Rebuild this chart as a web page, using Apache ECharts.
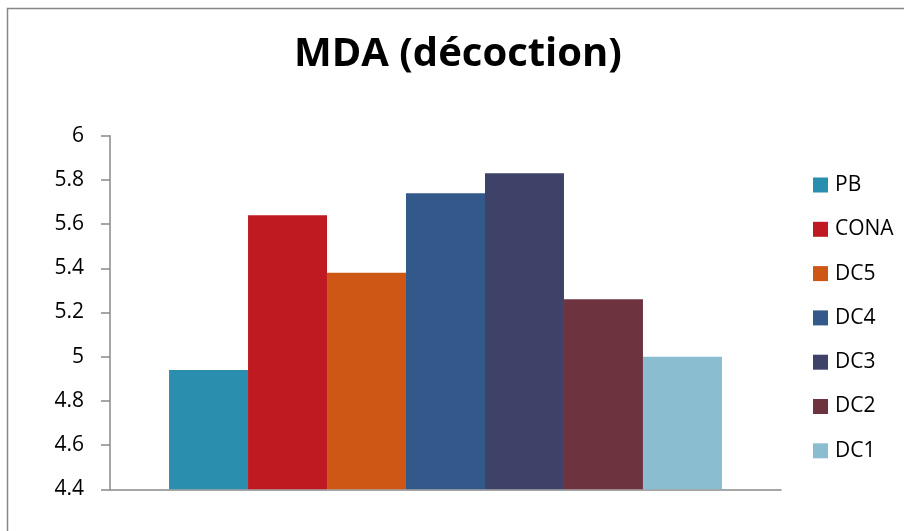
<!DOCTYPE html>
<html>
<head>
<meta charset="utf-8">
<script src="https://cdn.jsdelivr.net/npm/echarts@6/dist/echarts.min.js"></script>
<style>
html,body{margin:0;padding:0;background:#fff;}
#chart{width:904px;height:531px;}
</style>
</head>
<body>
<div id="chart"></div>
<script>
var titleText = 'MDA (décoction)';
var categories = ['MDA'];
var seriesNames = ['PB', 'CONA', 'DC5', 'DC4', 'DC3', 'DC2', 'DC1'];
var seriesValues = [4.94, 5.64, 5.38, 5.74, 5.83, 5.26, 5.00];
var seriesColors = ['#2A8FAE', '#BF1A22', '#CF5716', '#33598B', '#3F4268', '#6D3440', '#8ABDD0'];
var yMin = 4.4, yMax = 6, yStep = 0.2;

var FONT = 'Open Sans';
var chart = echarts.init(document.getElementById('chart'), null, {renderer: 'canvas'});
var series = seriesNames.map(function (name, i) {
  return {
    name: name,
    type: 'bar',
    data: [seriesValues[i]],
    itemStyle: {color: seriesColors[i]},
    barGap: '0%',
    barCategoryGap: '17.6%',
    emphasis: {disabled: true}
  };
});
chart.setOption({
  animation: false,
  backgroundColor: '#fff',
  title: {
    text: titleText,
    left: 289,
    top: 30,
    textStyle: {fontFamily: FONT, fontWeight: 'bold', fontSize: 40, color: '#000'}
  },
  legend: {
    orient: 'vertical',
    left: 808,
    top: 169,
    itemWidth: 15,
    itemHeight: 15,
    itemGap: 22.3,
    icon: 'rect',
    data: seriesNames,
    textStyle: {fontFamily: FONT, fontSize: 21, color: '#000', lineHeight: 22, padding: [0, 0, 0, 2]}
  },
  grid: {left: 110, right: 123, top: 135.7, bottom: 41.7, containLabel: false},
  xAxis: {
    type: 'category',
    data: categories,
    axisLine: {show: true, lineStyle: {color: '#898989', width: 1.5}},
    axisTick: {show: false},
    axisLabel: {show: false},
    splitLine: {show: false}
  },
  yAxis: {
    type: 'value',
    min: yMin,
    max: yMax,
    interval: yStep,
    axisLine: {show: true, lineStyle: {color: '#898989', width: 1.5}},
    axisTick: {show: true, length: 9, inside: false, lineStyle: {color: '#898989', width: 1.5}},
    axisLabel: {margin: 26, fontFamily: FONT, fontSize: 21, color: '#000',
      formatter: function (v) { return String(Math.round(v * 10) / 10); }},
    splitLine: {show: false}
  },
  graphic: [{
    type: 'rect',
    shape: {x: 7.5, y: 8.5, width: 1000, height: 1000},
    style: {fill: null, stroke: '#878787', lineWidth: 1.5},
    silent: true
  }],
  series: series
});
</script>
</body>
</html>
